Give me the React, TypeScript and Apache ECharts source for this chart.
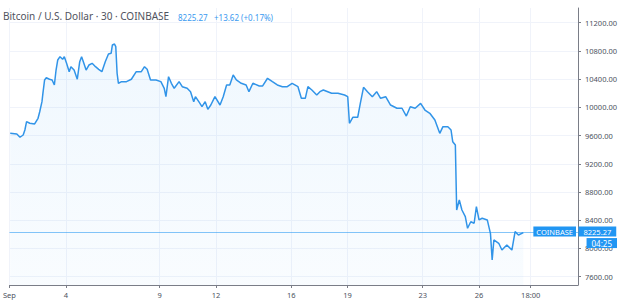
import React, { useEffect, useRef } from 'react';
import * as echarts from 'echarts';

// Time as day of September 2019 (fractional days), BTC/USD price on Coinbase
const times = [
  1.04, 1.39, 1.56, 1.73, 1.82, 1.91, 2.08, 2.34, 2.52, 2.61, 2.73, 2.78, 2.87, 2.96, 3.13, 3.27, 3.39, 3.48,
  3.57, 3.69, 3.83, 3.92, 4.04, 4.18, 4.27, 4.44, 4.61, 4.74, 4.84, 4.96, 5.08, 5.23, 5.4, 5.58, 5.75, 5.92,
  6.1, 6.27, 6.41, 6.48, 6.59, 6.66, 6.73, 6.8, 6.97, 7.23, 7.49, 7.75, 8.02, 8.19, 8.33, 8.51, 8.8, 9.06,
  9.24, 9.33, 9.47, 9.62, 9.77, 10.03, 10.2, 10.46, 10.64, 10.81, 10.9, 11.08, 11.25, 11.42, 11.56, 11.72,
  11.94, 12.21, 12.38, 12.56, 12.73, 12.91, 13.08, 13.34, 13.6, 13.75, 13.96, 14.3, 14.48, 14.74, 15.0,
  15.26, 15.53, 15.79, 16.05, 16.36, 16.54, 16.75, 16.89, 17.1, 17.36, 17.53, 17.71, 18.15, 18.49, 18.84,
  19.01, 19.1, 19.28, 19.54, 19.68, 19.85, 20.06, 20.32, 20.55, 20.76, 21.03, 21.29, 21.63, 21.9, 22.13,
  22.34, 22.6, 22.89, 23.12, 23.38, 23.65, 23.91, 24.08, 24.34, 24.51, 24.6, 24.74, 24.81, 24.95, 25.09,
  25.27, 25.39, 25.56, 25.74, 25.86, 26.0, 26.17, 26.44, 26.61, 26.7, 26.79, 27.05, 27.22, 27.48, 27.75,
  27.92, 28.1, 28.36,
];
const prices = [
  9632, 9622, 9576, 9608, 9679, 9797, 9774, 9764, 9845, 9938, 10080, 10199, 10388, 10420, 10398, 10388, 10317, 10529,
  10671, 10718, 10681, 10718, 10624, 10505, 10576, 10529, 10398, 10647, 10718, 10624, 10529, 10600, 10624, 10576, 10539, 10505,
  10647, 10756, 10766, 10884, 10898, 10860, 10483, 10341, 10364, 10364, 10398, 10505, 10505, 10576, 10539, 10388, 10388, 10364,
  10270, 10151, 10434, 10341, 10270, 10364, 10293, 10270, 10222, 10080, 10151, 10080, 10009, 10080, 9972, 10033,
  10151, 10033, 10151, 10317, 10317, 10458, 10388, 10341, 10317, 10222, 10341, 10303, 10303, 10412, 10364,
  10317, 10293, 10293, 10341, 10293, 10128, 10128, 10293, 10246, 10175, 10222, 10246, 10199, 10199, 10175,
  10151, 9774, 9859, 9859, 10057, 10284, 10222, 10151, 10222, 10128, 10151, 10033, 9987, 9987, 9877,
  10009, 9987, 10057, 9962, 9916, 9821, 9632, 9726, 9726, 9679, 9513, 9466, 8545, 8687, 8545,
  8450, 8286, 8379, 8357, 8592, 8404, 8428, 8404, 8210, 7837, 8120, 8073, 7978, 8049, 7978,
  8238, 8191, 8225.27,
];

const yTicks = [7600, 8000, 8400, 8800, 9200, 9600, 10000, 10400, 10800, 11200];
const xTickValues = [1, 4, 9, 12, 16, 19, 23, 26, 28.75];
const xTickLabels = ['Sep', '4', '9', '12', '16', '19', '23', '26', '18:00'];

const symbolTitle = 'Bitcoin / U.S. Dollar · 30 · COINBASE';
const lastPriceText = '8225.27';
const changeText = '+13.62 (+0.17%)';
const exchangeText = 'COINBASE';
const countdownText = '04:25';

const X_MIN = 1;
const X_MAX = 31.27;
const Y_MIN = 7482;
const Y_MAX = 11408;

const BLUE = '#2196f3';
const LINE = '#3194e8';
const AXIS = '#7a7d87';
const GRID = '#f0f3fa';
const LABEL = '#4c525e';
const FONT = '"Noto Sans", sans-serif';

export default function App() {
  const ref = useRef<HTMLDivElement>(null);

  useEffect(() => {
    if (!ref.current) return;
    const chart = echarts.init(ref.current, null, { renderer: 'svg' });
    const data = times.map((t, i) => [t, prices[i]]);
    const lastPrice = prices[prices.length - 1];

    chart.setOption({
      animation: false,
      backgroundColor: '#ffffff',
      textStyle: { fontFamily: FONT },
      grid: { left: 0, right: 56, top: 8, bottom: 18, containLabel: false },
      xAxis: {
        type: 'value',
        min: X_MIN,
        max: X_MAX,
        axisLine: { show: true, lineStyle: { color: AXIS, width: 1 } },
        axisTick: { show: true, length: 3, lineStyle: { color: AXIS }, customValues: xTickValues },
        axisLabel: {
          customValues: xTickValues,
          color: LABEL,
          fontSize: 7.5,
          fontFamily: FONT,
          margin: 6,
          alignMinLabel: 'center',
          formatter: (v: number) => {
            let best = 0;
            for (let i = 0; i < xTickValues.length; i++) {
              if (Math.abs(xTickValues[i] - v) < Math.abs(xTickValues[best] - v)) best = i;
            }
            return xTickLabels[best];
          },
        },
        splitLine: { show: true, lineStyle: { color: GRID, width: 1 } },
      },
      yAxis: {
        type: 'value',
        position: 'right',
        min: Y_MIN,
        max: Y_MAX,
        axisLine: { show: true, lineStyle: { color: AXIS, width: 1 } },
        axisTick: { show: true, length: 3, lineStyle: { color: AXIS }, customValues: yTicks },
        axisLabel: {
          customValues: yTicks,
          color: LABEL,
          fontSize: 7.5,
          fontFamily: FONT,
          margin: 7,
          formatter: (v: number) => v.toFixed(2),
        },
        splitLine: { show: true, lineStyle: { color: GRID, width: 1 } },
      },
      series: [
        {
          type: 'line',
          data,
          showSymbol: false,
          symbol: 'none',
          lineStyle: { color: LINE, width: 1.5 },
          areaStyle: {
            origin: 'start',
            color: new echarts.graphic.LinearGradient(0, 0, 0, 1, [
              { offset: 0, color: 'rgba(33,150,243,0.10)' },
              { offset: 1, color: 'rgba(33,150,243,0.04)' },
            ]),
          },
          markLine: {
            silent: true,
            symbol: ['none', 'none'],
            label: { show: false },
            lineStyle: { color: 'rgba(33,150,243,0.55)', width: 1, type: 'solid' },
            data: [{ yAxis: lastPrice }],
          },
        },
      ],
    });

    const py = chart.convertToPixel({ yAxisIndex: 0 }, lastPrice) as number;
    const axisX = chart.convertToPixel({ xAxisIndex: 0 }, X_MAX) as number;

    chart.setOption({
      graphic: [
        {
          type: 'text',
          left: 3,
          top: 11,
          style: { text: symbolTitle, fill: '#50535e', font: `10px ${FONT}` },
        },
        {
          type: 'text',
          left: 178,
          top: 13,
          style: { text: lastPriceText, fill: '#3a9af0', font: `8px ${FONT}` },
        },
        {
          type: 'text',
          left: 214,
          top: 13,
          style: { text: changeText, fill: '#3a9af0', font: `8px ${FONT}` },
        },
        {
          type: 'text',
          x: axisX - 2,
          y: py - 1,
          z: 100,
          style: {
            text: exchangeText,
            fill: '#ffffff',
            font: `7.5px ${FONT}`,
            align: 'right',
            verticalAlign: 'middle',
            backgroundColor: BLUE,
            padding: [1, 3, 1, 3],
          },
        },
        {
          type: 'text',
          x: axisX + 0.5,
          y: py - 1,
          z: 100,
          style: {
            text: lastPriceText,
            fill: '#ffffff',
            font: `7.5px ${FONT}`,
            align: 'left',
            verticalAlign: 'middle',
            backgroundColor: BLUE,
            padding: [1, 5, 1, 5],
          },
        },
        {
          type: 'text',
          x: axisX + 39,
          y: py + 10.5,
          z: 100,
          style: {
            text: countdownText,
            fill: '#ffffff',
            font: `8px ${FONT}`,
            align: 'right',
            verticalAlign: 'middle',
            backgroundColor: BLUE,
            padding: [1, 5, 1, 5],
          },
        },
      ],
    });

    return () => chart.dispose();
  }, []);

  return (
    <div
      ref={ref}
      style={{ position: 'fixed', left: 0, top: 0, width: 634, height: 303 }}
    />
  );
}
